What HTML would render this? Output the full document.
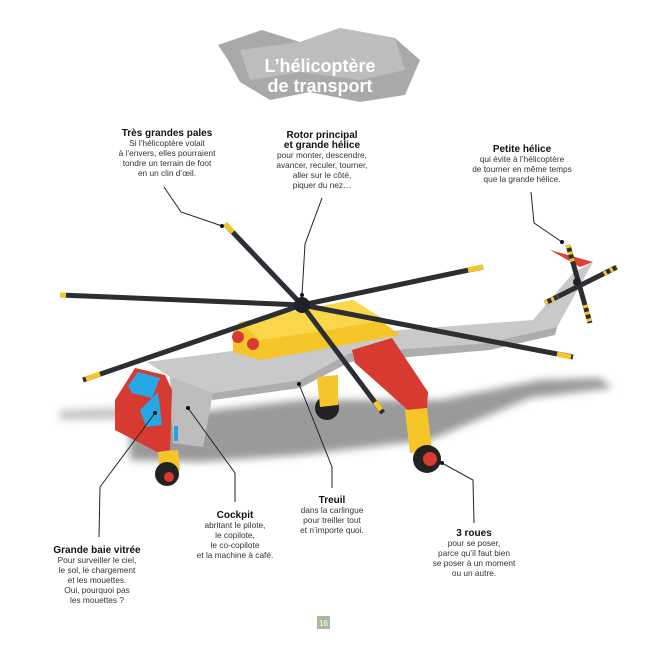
<!DOCTYPE html>
<html><head><meta charset="utf-8"><style>
body{margin:0;background:#fff}
svg{display:block;font-family:"Liberation Sans",sans-serif}
.t{font-weight:bold;font-size:10px;fill:#111}
.b{font-size:8.3px;fill:#333}
</style></head><body>
<svg width="646" height="652" viewBox="0 0 646 652">
<defs><filter id="bl"><feGaussianBlur stdDeviation="4"/></filter></defs>
<!-- title banner -->
<polygon points="218,45 262,30 300,42 340,28 395,38 420,60 405,95 360,102 310,92 270,100 240,82 228,60" fill="#a9a9a9"/>
<polygon points="240,50 300,42 340,28 395,38 405,70 360,80 300,72 250,80" fill="#bdbdbd"/>
<text x="320" y="72" text-anchor="middle" font-size="18" font-weight="bold" fill="#fff">L’hélicoptère</text>
<text x="320" y="92" text-anchor="middle" font-size="18" font-weight="bold" fill="#fff">de transport</text>
<!-- shadow -->
<g filter="url(#bl)" fill="#9a9a9a">
<polygon points="130,420 300,400 440,400 540,380 600,378 612,388 530,398 430,440 300,455 200,462 130,460"/>
<polygon points="60,410 200,405 200,418 60,420" fill="#c4c4c4"/>
</g>
<!-- fuselage -->
<polygon points="147,362 263,347 400,330 533,320 573,273 593,262 557,327 487,343 350,353 300,380 213,393 170,377" fill="#c9c9c9"/>
<polygon points="170,377 213,393 300,380 350,353 487,343 557,327 555,335 490,350 350,362 300,388 213,400" fill="#adadad"/>
<polygon points="170,377 213,393 203,447 173,443" fill="#bdbdbd"/>
<rect x="174" y="426" width="4" height="15" fill="#2aa0e0"/>
<!-- red nose -->
<polygon points="115,400 135,368 165,375 172,390 170,450 157,452 115,430" fill="#d63a30"/>
<polygon points="128,386 138,372 160,378 152,398 132,393" fill="#27a7e6"/>
<polygon points="140,410 158,392 162,425 146,427" fill="#27a7e6"/>
<!-- yellow block -->
<polygon points="233,330 240,322 300,310 353,300 400,335 300,353 260,360 233,352" fill="#f5c52a"/>
<polygon points="240,322 300,310 353,300 385,320 330,330 260,340" fill="#f9d64a"/>
<circle cx="238" cy="337" r="6" fill="#d63a30"/><circle cx="253" cy="344" r="6" fill="#d63a30"/>
<!-- legs and wheels -->
<circle cx="327" cy="408" r="12" fill="#222"/>
<polygon points="317,377 338,375 338,405 320,407" fill="#f5c52a"/>
<polygon points="158,452 178,450 180,470 160,473" fill="#f5c52a"/>
<circle cx="167" cy="474" r="12" fill="#222"/><circle cx="169" cy="477" r="5" fill="#d63a30"/>
<polygon points="352,350 392,338 428,392 427,408 410,412 355,363" fill="#d63a30"/>
<polygon points="405,410 427,408 432,450 410,453" fill="#f5c52a"/>
<circle cx="427" cy="459" r="14" fill="#222"/><circle cx="430" cy="459" r="7" fill="#d63a30"/>
<!-- tail rotor -->
<polygon points="550,250 593,262 580,267" fill="#e0403a"/>
<g stroke="#2b2f33" stroke-width="5">
<line x1="568" y1="245" x2="590" y2="323"/><line x1="545" y1="303" x2="617" y2="267"/>
</g>
<g stroke="#f5c52a" stroke-width="5" stroke-dasharray="3 4">
<line x1="568" y1="245" x2="573" y2="264"/><line x1="585" y1="305" x2="590" y2="323"/>
<line x1="545" y1="303" x2="558" y2="297"/><line x1="604" y1="274" x2="617" y2="267"/>
</g>
<circle cx="577" cy="282" r="4" fill="#1e2226"/>
<!-- main rotor -->
<g stroke="#2b2f33" stroke-width="5">
<line x1="302" y1="305" x2="225" y2="224"/><line x1="302" y1="305" x2="60" y2="295"/>
<line x1="302" y1="305" x2="83" y2="380"/><line x1="302" y1="305" x2="483" y2="267"/>
<line x1="302" y1="305" x2="573" y2="357"/><line x1="302" y1="305" x2="383" y2="413"/>
</g>
<g stroke="#f5c52a" stroke-width="5">
<line x1="225" y1="224" x2="233" y2="232"/><line x1="60" y1="295" x2="66" y2="295"/>
<line x1="86" y1="379" x2="100" y2="374"/><line x1="483" y1="267" x2="468" y2="270"/>
<line x1="571" y1="357" x2="557" y2="354"/><line x1="381" y1="410" x2="375" y2="402"/>
</g>
<circle cx="302" cy="305" r="8" fill="#1e2226"/>
<!-- leader lines -->
<g fill="none" stroke="#222" stroke-width="1">
<polyline points="164,187 181,212 222,226"/>
<polyline points="322,198 305,244 302,295"/>
<polyline points="531,192 534,223 562,242"/>
<polyline points="188,408 235,473 235,502"/>
<polyline points="299,384 332,467 332,488"/>
<polyline points="442,463 473,480 474,523"/>
<polyline points="155,413 100,487 99,537"/>
</g>
<g fill="#111"><circle cx="222" cy="226" r="2"/><circle cx="302" cy="295" r="2"/><circle cx="562" cy="242" r="2"/><circle cx="188" cy="408" r="2"/><circle cx="299" cy="384" r="2"/><circle cx="442" cy="463" r="2"/><circle cx="155" cy="413" r="2"/></g>
<!-- labels -->
<g text-anchor="middle">
<text class="t" x="167" y="136">Très grandes pales</text>
<text class="b" x="167" y="146">Si l’hélicoptère volait</text>
<text class="b" x="167" y="156">à l’envers, elles pourraient</text>
<text class="b" x="167" y="166">tondre un terrain de foot</text>
<text class="b" x="167" y="176">en un clin d’œil.</text>
<text class="t" x="322" y="138">Rotor principal</text>
<text class="t" x="322" y="148">et grande hélice</text>
<text class="b" x="322" y="158">pour monter, descendre,</text>
<text class="b" x="322" y="168">avancer, reculer, tourner,</text>
<text class="b" x="322" y="178">aller sur le côté,</text>
<text class="b" x="322" y="188">piquer du nez…</text>
<text class="t" x="522" y="152">Petite hélice</text>
<text class="b" x="522" y="162">qui évite à l’hélicoptère</text>
<text class="b" x="522" y="172">de tourner en même temps</text>
<text class="b" x="522" y="182">que la grande hélice.</text>
<text class="t" x="97" y="553">Grande baie vitrée</text>
<text class="b" x="97" y="563">Pour surveiller le ciel,</text>
<text class="b" x="97" y="573">le sol, le chargement</text>
<text class="b" x="97" y="583">et les mouettes.</text>
<text class="b" x="97" y="593">Oui, pourquoi pas</text>
<text class="b" x="97" y="603">les mouettes ?</text>
<text class="t" x="235" y="518">Cockpit</text>
<text class="b" x="235" y="528">abritant le pilote,</text>
<text class="b" x="235" y="538">le copilote,</text>
<text class="b" x="235" y="548">le co-copilote</text>
<text class="b" x="235" y="558">et la machine à café.</text>
<text class="t" x="332" y="503">Treuil</text>
<text class="b" x="332" y="513">dans la carlingue</text>
<text class="b" x="332" y="523">pour treiller tout</text>
<text class="b" x="332" y="533">et n’importe quoi.</text>
<text class="t" x="474" y="536">3 roues</text>
<text class="b" x="474" y="546">pour se poser,</text>
<text class="b" x="474" y="556">parce qu’il faut bien</text>
<text class="b" x="474" y="566">se poser à un moment</text>
<text class="b" x="474" y="576">ou un autre.</text>
</g>
<rect x="317" y="616" width="13" height="13" fill="#a9b99c"/>
<text x="323.5" y="626" text-anchor="middle" font-size="8" fill="#fff">16</text>
</svg>
</body></html>
